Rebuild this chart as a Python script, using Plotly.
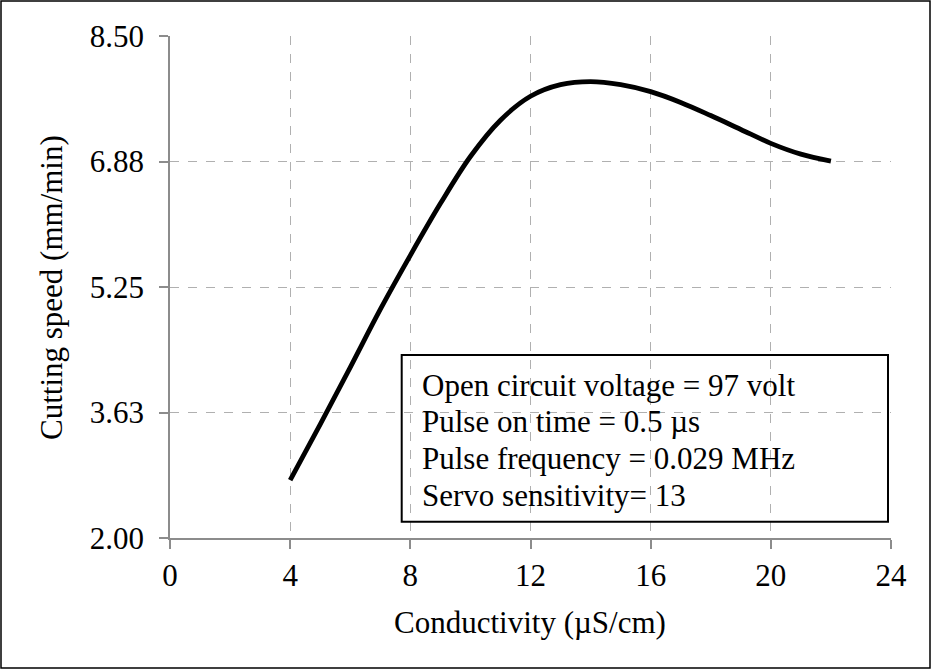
import plotly.graph_objects as go

# Data
conductivity = [4, 5, 6, 7, 8, 9, 10, 11, 12, 13, 14, 15, 16, 17, 18, 19, 20, 21, 22]
cutting_speed = [2.75, 3.47, 4.21, 4.96, 5.66, 6.33, 6.94, 7.41, 7.72, 7.87, 7.91, 7.87, 7.78, 7.64, 7.47, 7.29, 7.11, 6.97, 6.88]

y_tickvals = [2.0, 3.625, 5.25, 6.875, 8.5]
y_ticktext = ["2.00", "3.63", "5.25", "6.88", "8.50"]
x_tickvals = [0, 4, 8, 12, 16, 20, 24]

info_lines = [
    "Open circuit voltage = 97 volt",
    "Pulse on time = 0.5 µs",
    "Pulse frequency = 0.029 MHz",
    "Servo sensitivity= 13",
]

FONT = "Liberation Serif, Times New Roman, serif"
FS = 31

fig = go.Figure()
fig.add_trace(go.Scatter(
    x=conductivity, y=cutting_speed, mode="lines",
    line=dict(color="black", width=4.8, shape="spline", smoothing=1.0),
    showlegend=False, hoverinfo="skip",
))

axis_common = dict(
    showline=True, linecolor="#8c8c8c", linewidth=1.5,
    showgrid=True, gridcolor="#b0b0b0", griddash="dash", gridwidth=1.3,
    ticks="outside", ticklen=9, tickcolor="#8c8c8c", tickwidth=1.5,
    zeroline=False,
    tickfont=dict(family=FONT, size=FS, color="black"),
)

fig.update_xaxes(range=[0, 24], tickvals=x_tickvals, **axis_common)
fig.update_yaxes(range=[2, 8.5], tickvals=y_tickvals, ticktext=y_ticktext,
                 ticklabelstandoff=9, **axis_common)

PL, PR, PT, PB = 170, 891, 36, 538
W, H = 931, 669
pw, ph = PR - PL, PB - PT

def px_x(x):
    return (x - PL) / pw

def px_y(y):
    return (PB - y) / ph

annotations = []
annotations.append(dict(text="Conductivity (µS/cm)", xref="paper", yref="paper",
                        x=px_x(530), y=px_y(622), showarrow=False,
                        xanchor="center", yanchor="middle",
                        font=dict(family=FONT, size=FS, color="black")))
annotations.append(dict(text="Cutting speed (mm/min)", xref="paper", yref="paper",
                        x=px_x(51), y=px_y(287), showarrow=False, textangle=-90,
                        xanchor="center", yanchor="middle",
                        font=dict(family=FONT, size=FS, color="black")))
line_y = [385, 421.7, 458.3, 495]
for t, yy in zip(info_lines, line_y):
    annotations.append(dict(text=t, xref="paper", yref="paper",
                            x=px_x(420), y=px_y(yy), showarrow=False,
                            xanchor="left", yanchor="middle", align="left",
                            font=dict(family=FONT, size=FS, color="black")))

shapes = [
    dict(type="rect", xref="paper", yref="paper",
         x0=px_x(401.7), x1=px_x(888), y0=px_y(521.7), y1=px_y(355),
         line=dict(color="black", width=2), fillcolor="rgba(0,0,0,0)"),
    dict(type="rect", xref="paper", yref="paper",
         x0=px_x(1), x1=px_x(930), y0=px_y(668), y1=px_y(1),
         line=dict(color="black", width=1.5), fillcolor="rgba(0,0,0,0)", layer="below"),
]

fig.update_layout(
    width=W, height=H,
    margin=dict(l=PL, r=W - PR, t=PT, b=H - PB, pad=0),
    paper_bgcolor="white", plot_bgcolor="white",
    annotations=annotations, shapes=shapes,
    font=dict(family=FONT, size=FS, color="black"),
)

fig.write_html("out.html")
